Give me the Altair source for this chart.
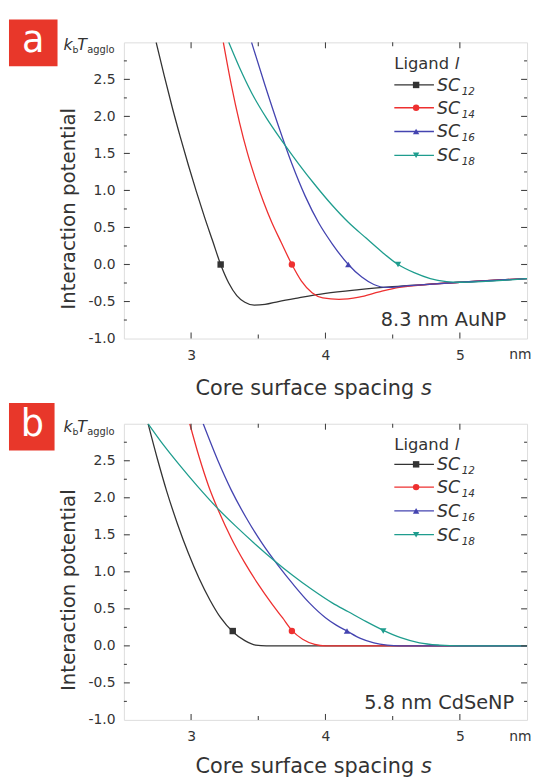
import altair as alt
import pandas as pd

FONT = "DejaVu Sans"
W, H = 407, 299

ligands = ["SC12", "SC14", "SC16", "SC18"]
subs = ["12", "14", "16", "18"]
line_colors = ["#333333", "#ee3030", "#4444b0", "#1f9d8e"]
shapes = ["square", "circle", "triangle-up", "triangle-down"]

x_labels = [3, 4, 5]
y_labels = [-1.0, -0.5, 0.0, 0.5, 1.0, 1.5, 2.0, 2.5]
x_major = [3, 4, 5]
x_minor = [3.5, 4.5]
y_major = [-0.5, 0.0, 0.5, 1.0, 1.5, 2.0, 2.5]
y_minor = [-0.75, -0.25, 0.25, 0.75, 1.25, 1.75, 2.25, 2.75]

# ---------- panel a : 8.3 nm AuNP ----------
a12_s = [2.74, 2.80, 2.86, 2.92, 2.98, 3.04, 3.10, 3.16, 3.22, 3.28, 3.34, 3.40, 3.47, 3.55, 3.65, 3.80, 4.00, 4.25, 4.50, 5.00, 5.50]
a12_u = [3.00, 2.55, 2.12, 1.72, 1.34, 0.98, 0.64, 0.32, 0.00, -0.25, -0.42, -0.51, -0.55, -0.54, -0.50, -0.45, -0.39, -0.34, -0.30, -0.24, -0.19]
a14_s = [3.24, 3.30, 3.36, 3.42, 3.48, 3.54, 3.60, 3.67, 3.75, 3.82, 3.90, 3.98, 4.10, 4.25, 4.40, 4.55, 5.00, 5.50]
a14_u = [3.00, 2.42, 1.92, 1.50, 1.15, 0.84, 0.57, 0.30, 0.00, -0.22, -0.38, -0.45, -0.47, -0.44, -0.37, -0.31, -0.24, -0.19]
a16_s = [3.45, 3.55, 3.65, 3.75, 3.85, 3.95, 4.05, 4.17, 4.27, 4.36, 4.45, 4.60, 5.00, 5.50]
a16_u = [3.00, 2.42, 1.87, 1.36, 0.92, 0.56, 0.28, 0.00, -0.17, -0.27, -0.31, -0.29, -0.24, -0.19]
a18_s = [3.28, 3.36, 3.45, 3.56, 3.68, 3.80, 3.92, 4.05, 4.17, 4.30, 4.42, 4.54, 4.66, 4.78, 4.90, 5.00, 5.50]
a18_u = [3.00, 2.66, 2.32, 1.98, 1.66, 1.36, 1.08, 0.80, 0.57, 0.36, 0.17, 0.00, -0.11, -0.19, -0.23, -0.24, -0.19]
a_mark_s = [3.22, 3.75, 4.17, 4.54]
a_mark_u = [0.0, 0.0, 0.0, 0.0]

# ---------- panel b : 5.8 nm CdSeNP ----------
b12_s = [2.68, 2.75, 2.82, 2.90, 2.98, 3.06, 3.14, 3.22, 3.31, 3.40, 3.48, 3.56, 4.00, 4.50, 5.00, 5.50]
b12_u = [3.00, 2.52, 2.08, 1.64, 1.25, 0.91, 0.62, 0.38, 0.19, 0.07, 0.01, 0.00, 0.00, 0.00, 0.00, 0.00]
b14_s = [2.99, 3.06, 3.13, 3.21, 3.30, 3.40, 3.50, 3.60, 3.68, 3.75, 3.83, 3.92, 4.00, 4.50, 5.00, 5.50]
b14_u = [3.00, 2.55, 2.16, 1.80, 1.45, 1.12, 0.83, 0.57, 0.38, 0.21, 0.09, 0.02, 0.00, 0.00, 0.00, 0.00]
b16_s = [3.09, 3.20, 3.30, 3.41, 3.53, 3.65, 3.76, 3.88, 4.00, 4.08, 4.16, 4.26, 4.36, 4.46, 4.55, 5.00, 5.50]
b16_u = [3.00, 2.50, 2.10, 1.73, 1.38, 1.08, 0.83, 0.58, 0.38, 0.28, 0.20, 0.10, 0.04, 0.01, 0.00, 0.00, 0.00]
b18_s = [2.68, 2.80, 2.91, 3.05, 3.19, 3.33, 3.48, 3.62, 3.75, 3.90, 4.05, 4.17, 4.30, 4.43, 4.56, 4.70, 4.85, 5.00, 5.50]
b18_u = [3.00, 2.70, 2.45, 2.15, 1.87, 1.62, 1.37, 1.15, 0.96, 0.76, 0.58, 0.46, 0.33, 0.21, 0.11, 0.04, 0.01, 0.00, 0.00]
b_mark_s = [3.31, 3.75, 4.16, 4.43]
b_mark_u = [0.2, 0.2, 0.2, 0.2]

dummy = pd.DataFrame({"d": [0]})


def txt(t, x, y, size, align="left", style="normal", color="#333333", angle=0,
        baseline="alphabetic"):
    kw = dict(text=t, font=FONT, fontSize=size, align=align, baseline=baseline,
              fontStyle=style, color=color)
    if angle:
        kw["angle"] = angle
    return alt.Chart(dummy).mark_text(**kw).encode(x=alt.value(x), y=alt.value(y))


def panel(curves, mk_s, mk_u, letter, box, letter_pos, note, note_pos, leg_y, title_dy):
    rows = []
    for lig, (ss, uu) in zip(ligands, curves):
        for s, u in zip(ss, uu):
            rows.append({"ligand": lig, "s": s, "u": u})
    df = pd.DataFrame(rows)
    mk = pd.DataFrame({"ligand": ligands, "s": mk_s, "u": mk_u})

    xs = alt.Scale(domain=[2.5, 5.5], nice=False, zero=False)
    ys = alt.Scale(domain=[-1, 3], nice=False, zero=False)
    xaxis = alt.Axis(values=x_labels, format="d", ticks=False, domain=False, grid=False,
                     title=None, labelFont=FONT, labelFontSize=14, labelColor="#333333",
                     labelPadding=10)
    yaxis = alt.Axis(values=y_labels, ticks=False, domain=False, grid=False, title=None,
                     labelExpr="datum.value < 0 ? '-' + format(-datum.value, '.1f') : format(datum.value, '.1f')",
                     labelFont=FONT, labelFontSize=14, labelColor="#333333", labelPadding=9)
    cscale = alt.Scale(domain=ligands, range=line_colors)
    sscale = alt.Scale(domain=ligands, range=shapes)

    lines = alt.Chart(df).mark_line(strokeWidth=1.3, interpolate="monotone", clip=True).encode(
        x=alt.X("s:Q", scale=xs, axis=xaxis),
        y=alt.Y("u:Q", scale=ys, axis=yaxis),
        color=alt.Color("ligand:N", scale=cscale, legend=None),
        order=alt.Order("s:Q"),
    )
    points = alt.Chart(mk).mark_point(filled=True, size=42, opacity=1).encode(
        x=alt.X("s:Q", scale=xs, axis=xaxis),
        y=alt.Y("u:Q", scale=ys, axis=yaxis),
        color=alt.Color("ligand:N", scale=cscale, legend=None),
        shape=alt.Shape("ligand:N", scale=sscale, legend=None),
    )

    layers = [lines, points]
    tick_col = "#444444"
    for vals, ln in ((y_major, 6), (y_minor, 3)):
        d = pd.DataFrame({"s": [2.5] * len(vals), "u": vals})
        for x0, x1 in ((0, ln), (W, W - ln)):
            layers.append(alt.Chart(d).mark_rule(color=tick_col, strokeWidth=1.1).encode(
                y=alt.Y("u:Q", scale=ys, axis=yaxis), x=alt.value(x0), x2=alt.value(x1)))
    for vals, ln in ((x_major, 6), (x_minor, 4)):
        d = pd.DataFrame({"s": vals})
        for y0, y1 in ((0, ln), (H, H - ln)):
            layers.append(alt.Chart(d).mark_rule(color=tick_col, strokeWidth=1.1).encode(
                x=alt.X("s:Q", scale=xs, axis=xaxis), y=alt.value(y0), y2=alt.value(y1)))

    # panel letter box
    layers.append(alt.Chart(dummy).mark_rect(color="#e8372a").encode(
        x=alt.value(box[0]), x2=alt.value(box[1]), y=alt.value(box[2]), y2=alt.value(box[3])))
    layers.append(txt(letter, letter_pos[0], letter_pos[1], 37, align="center", color="#ffffff"))

    # k_b T_agglo label
    layers.append(txt("k", -61, 8, 16, style="italic"))
    layers.append(txt("b", -52, 11, 9.5))
    layers.append(txt("T", -47, 8, 16, style="italic"))
    layers.append(txt("agglo", -37, 11, 10))

    # axis titles
    layers.append(txt("Interaction potential", -55, 168, 20, align="center",
                      baseline="middle", angle=270))
    layers.append(txt("Core surface spacing", 293, H + title_dy, 21, align="right"))
    layers.append(txt("s", 300, H + title_dy, 21, style="italic"))
    layers.append(txt("nm", 389, H + 21, 14))

    # annotation
    layers.append(txt(note, note_pos[0], note_pos[1], 19.5, align="right"))

    # legend
    layers.append(txt("Ligand", 273, 27, 16.5))
    layers.append(txt("l", 334, 27, 16.5, style="italic"))
    for i, lig in enumerate(ligands):
        yc = leg_y[i]
        layers.append(alt.Chart(dummy).mark_rule(color=line_colors[i], strokeWidth=1.3).encode(
            x=alt.value(273), x2=alt.value(313), y=alt.value(yc)))
        layers.append(alt.Chart(dummy).mark_point(
            filled=True, size=42, opacity=1, shape=shapes[i], color=line_colors[i]).encode(
            x=alt.value(295), y=alt.value(yc)))
        layers.append(txt("SC", 316, yc + 6, 17.5, style="italic"))
        layers.append(txt(subs[i], 341, yc + 10, 10.5, style="italic"))

    return alt.layer(*layers).properties(width=W, height=H)


pa = panel([(a12_s, a12_u), (a14_s, a14_u), (a16_s, a16_u), (a18_s, a18_u)],
           a_mark_s, a_mark_u, "a", (-116, -67, -23, 24), (-91.5, 10),
           "8.3 nm AuNP", (386, 286), [43, 66, 90, 114], 57)
pb = panel([(b12_s, b12_u), (b14_s, b14_u), (b16_s, b16_u), (b18_s, b18_u)],
           b_mark_s, b_mark_u, "b", (-116, -70, -21, 27), (-92.5, 12),
           "5.8 nm CdSeNP", (394, 288), [41, 64, 88, 112], 54)

chart = alt.vconcat(pa, pb, spacing=86, bounds="flush").properties(
    padding={"left": 0, "top": 7, "right": 0, "bottom": 0}
).configure_view(stroke="#444444", strokeWidth=1.3).configure(background="#ffffff")

chart.save("out.html", embed_options={"renderer": "svg", "actions": False})
